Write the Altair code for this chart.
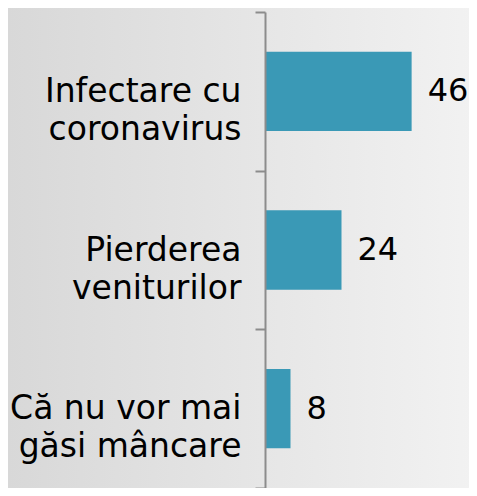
import altair as alt
import pandas as pd

categories = ["Infectare cu|coronavirus", "Pierderea\u00a0|veniturilor", "Că nu vor mai|găsi mâncare\u2009"]
values = [46, 24, 8]

df = pd.DataFrame({"cat": categories, "val": values})

W, H = 204, 476
PL, PT = 257, 4

bg = alt.Chart(pd.DataFrame({"a": [0]})).mark_rect(
    color=alt.LinearGradient(
        gradient="linear",
        stops=[alt.GradientStop(color="#d8d8d8", offset=0),
               alt.GradientStop(color="#f2f2f2", offset=1)],
        x1=0, x2=1, y1=0, y2=0,
    )
).encode(
    x=alt.value(-PL), x2=alt.value(W + 10),
    y=alt.value(-PT - 10), y2=alt.value(H + 20),
)

y_enc = alt.Y(
    "cat:N", sort=None, title=None,
    scale=alt.Scale(paddingInner=0, paddingOuter=0),
    axis=alt.Axis(
        labelExpr="split(datum.label, '|')",
        labelFontSize=33, labelLineHeight=38, labelFont="DejaVu Sans",
        labelColor="#000000", labelAlign="right", labelBaseline="middle",
        labelPadding=14, tickSize=10, tickBand="extent",
        domainColor="#8c8c8c", tickColor="#8c8c8c",
        domainWidth=2, tickWidth=2, labelLimit=400, zindex=1,
    ),
)
x_enc = alt.X("val:Q", title=None, scale=alt.Scale(domain=[0, 64]), axis=None)

bars = alt.Chart(df).mark_bar(color="#3a99b6", height={"band": 0.5}).encode(x=x_enc, y=y_enc)
text = alt.Chart(df).mark_text(
    align="left", baseline="middle", dx=16, fontSize=32,
    font="DejaVu Sans", color="#000000"
).encode(x=x_enc, y=y_enc, text="val:Q")

chart = alt.layer(bg, bars, text).properties(
    width=W, height=H,
    autosize=alt.AutoSizeParams(type="none"),
    padding={"left": PL, "top": PT, "right": 0, "bottom": 0},
    background="#e4e4e4",
).configure_view(strokeWidth=0)

chart.save("out.html", embed_options={"renderer": "svg", "actions": False})
